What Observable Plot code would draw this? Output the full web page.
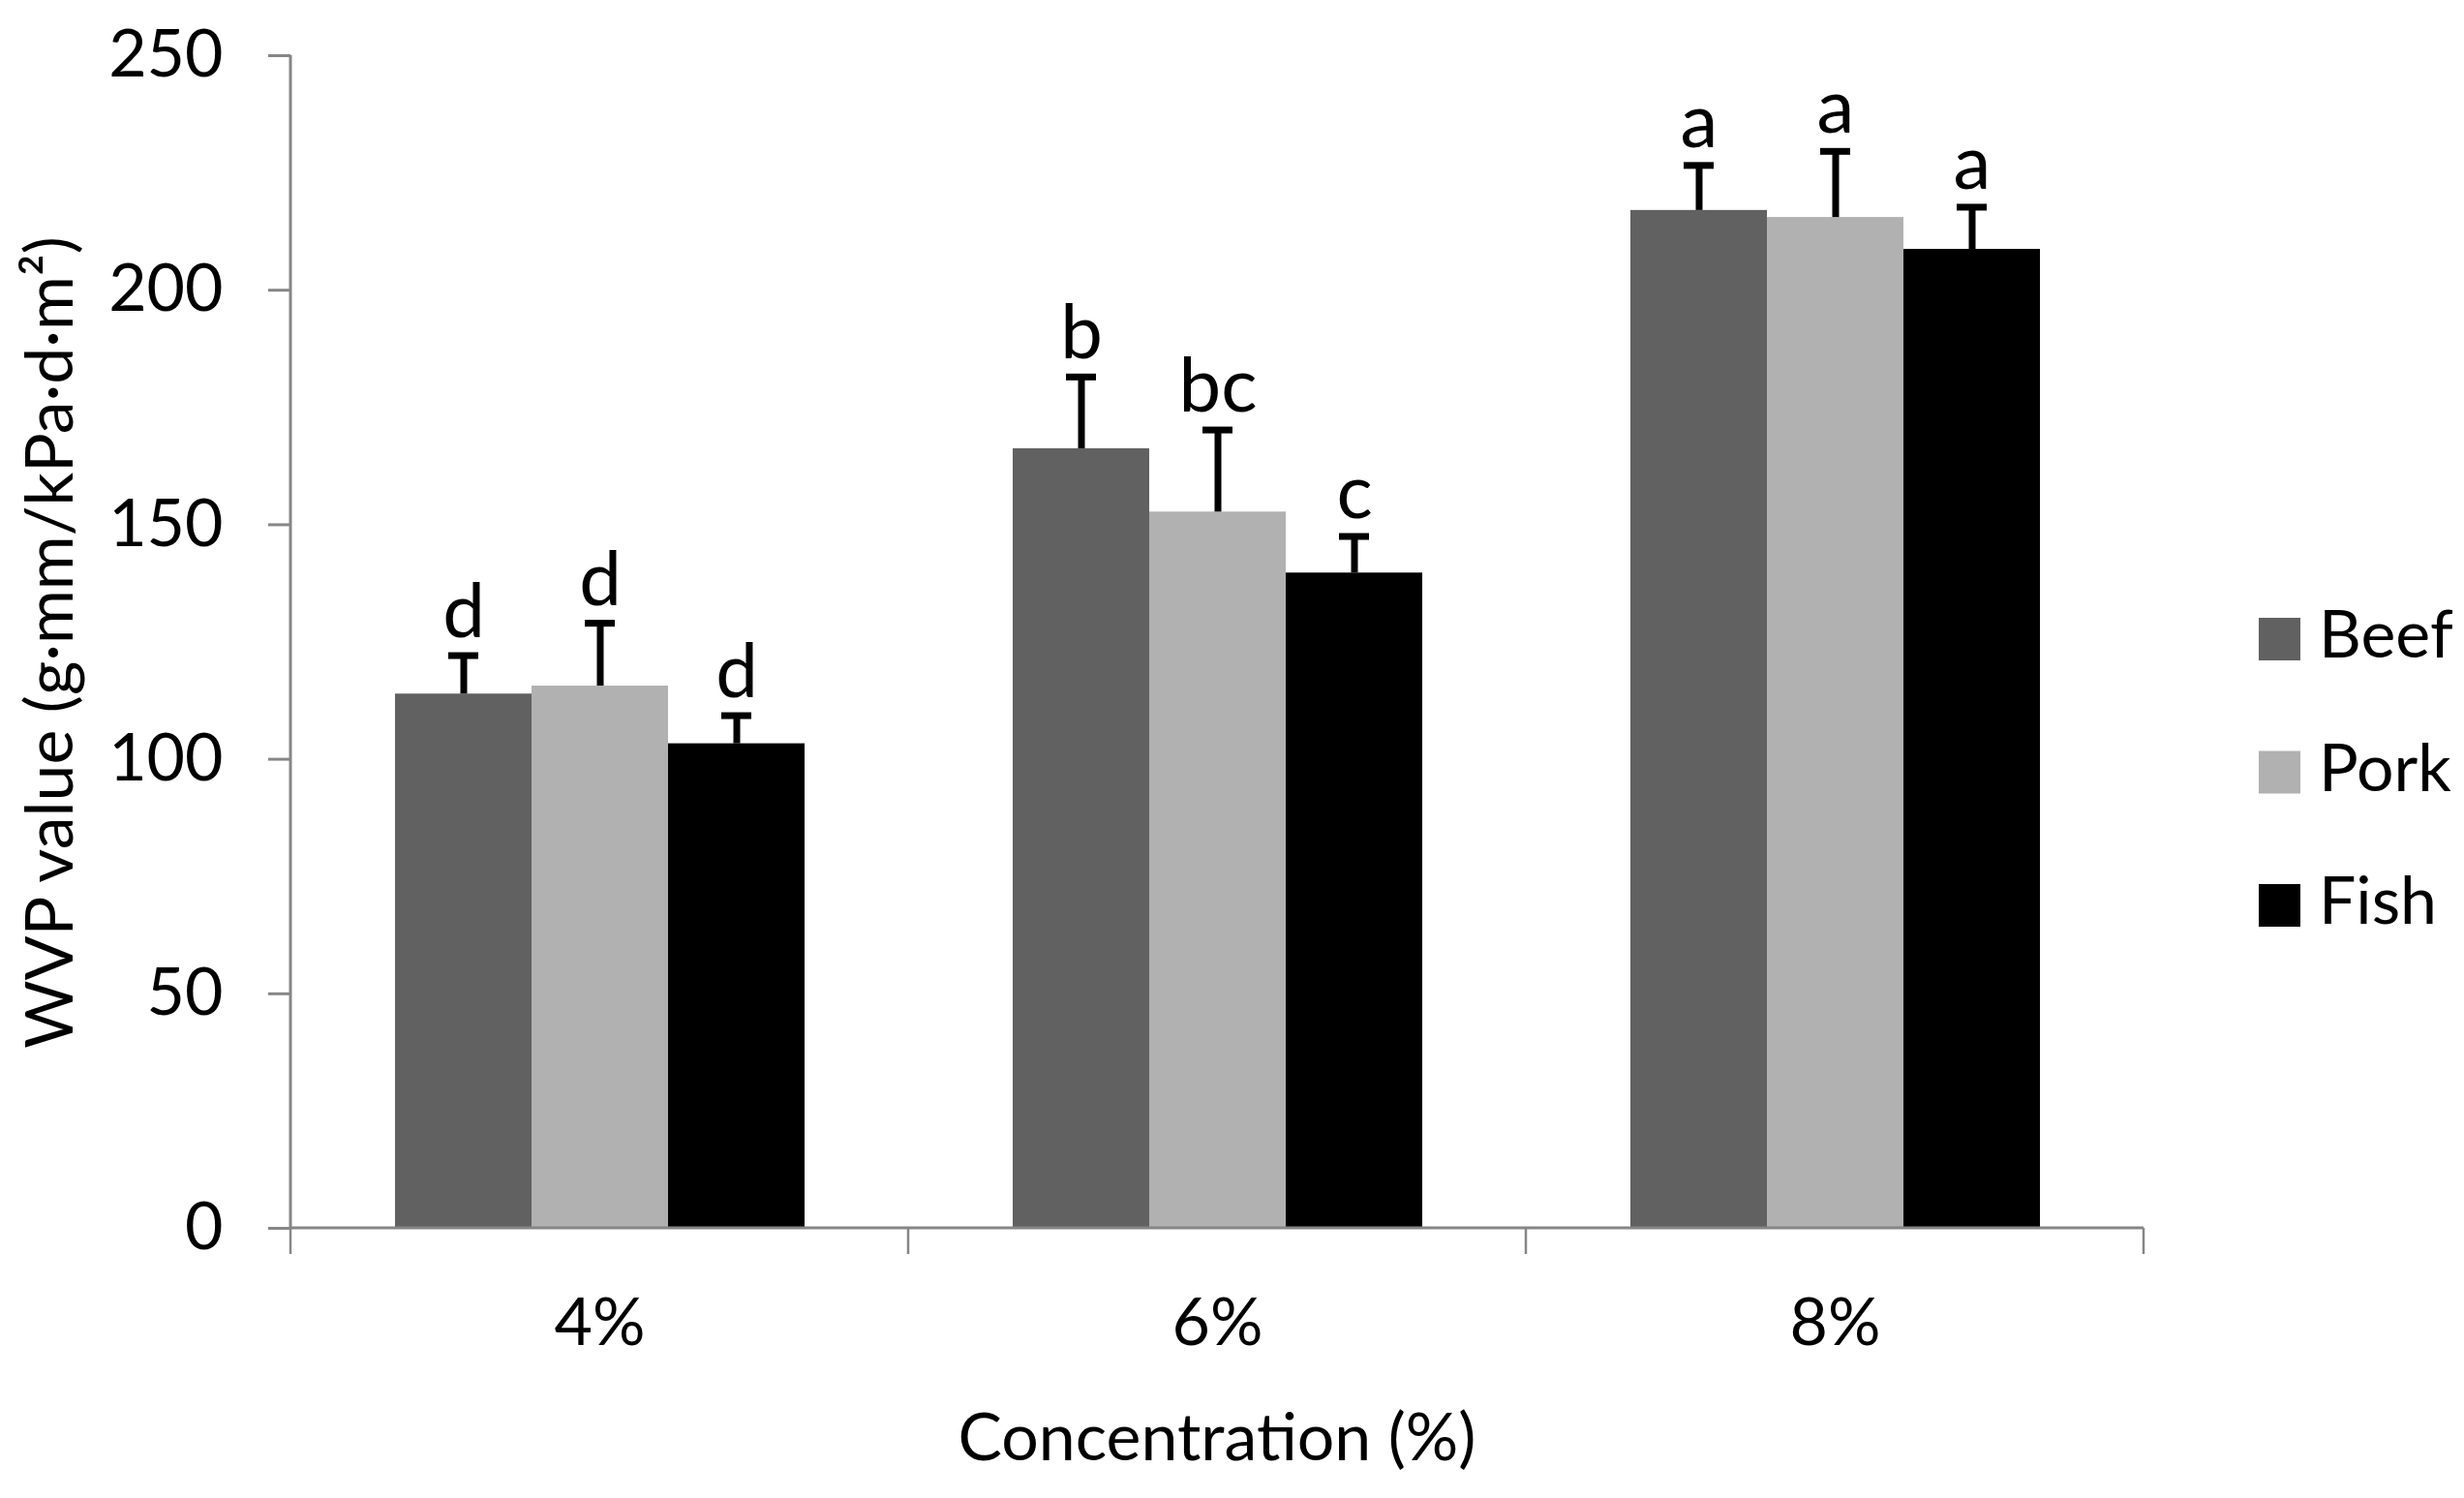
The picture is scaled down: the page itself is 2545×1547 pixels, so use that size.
<!DOCTYPE html>
<html>
<head>
<meta charset="utf-8">
<script src="https://cdn.jsdelivr.net/npm/d3@7"></script>
<script src="https://cdn.jsdelivr.net/npm/@observablehq/plot@0.6"></script>
<style>
  html, body { margin: 0; padding: 0; background: #fff; }
  #chart svg { display: block; font-family: Lato, "Open Sans", sans-serif; }
  #chart svg g[aria-label^="y-axis"] path,
  #chart svg g[aria-label^="y-axis"] line { stroke: #868686; stroke-width: 3px; }
</style>
</head>
<body>
<div id="chart"></div>
<script>
// ---- data ----
const concentrations = ["4%", "6%", "8%"];
const series = ["Beef", "Pork", "Fish"];
const seriesColors = ["#616161", "#b1b1b1", "#000000"];

const beefValues = [113.9, 166.2, 217.0];
const porkValues = [115.6, 152.7, 215.5];
const fishValues = [103.3, 139.7, 208.7];

const beefErrors = [8.2, 15.3, 9.6];
const porkErrors = [13.4, 17.5, 14.1];
const fishErrors = [6.0, 7.8, 9.0];

const beefLetters = ["d", "b", "a"];
const porkLetters = ["d", "bc", "a"];
const fishLetters = ["d", "c", "a"];

const yTicks = [0, 50, 100, 150, 200, 250];
const yTitle = "WVP value (g·mm/kPa·d·m²)";
const xTitle = "Concentration (%)";

// ---- table built from arrays ----
const valuesBy = {Beef: beefValues, Pork: porkValues, Fish: fishValues};
const errorsBy = {Beef: beefErrors, Pork: porkErrors, Fish: fishErrors};
const lettersBy = {Beef: beefLetters, Pork: porkLetters, Fish: fishLetters};
const rows = [];
concentrations.forEach((c, i) => {
  series.forEach(s => {
    const v = valuesBy[s][i];
    rows.push({conc: c, series: s, value: v, upper: v + errorsBy[s][i], letter: lettersBy[s][i]});
  });
});

const W = 2545, H = 1547;
const chart = Plot.plot({
  width: W,
  height: H,
  marginLeft: 299,
  marginRight: 331,
  marginTop: 57,
  marginBottom: 279,
  style: {fontFamily: "Lato", fontSize: "68px", color: "#000", background: "#fff", overflow: "visible"},
  fx: {domain: concentrations, padding: 0, label: null, tickSize: 0, tickPadding: 72},
  x: {domain: series, paddingInner: 0, paddingOuter: 0.75, axis: null},
  y: {domain: [0, 250], ticks: yTicks, tickSize: 23, tickPadding: 47, label: null},
  color: {domain: series, range: seriesColors},
  marks: [
    Plot.barY(rows, {fx: "conc", x: "series", y: "value", fill: "series"}),
    Plot.ruleX(rows, {fx: "conc", x: "series", y1: "value", y2: "upper", stroke: "#000", strokeWidth: 7}),
    Plot.tickY(rows, {fx: "conc", x: "series", y: "upper", stroke: "#000", strokeWidth: 7, insetLeft: 55, insetRight: 55}),
    Plot.text(rows, {fx: "conc", x: "series", y: "upper", text: "letter", lineAnchor: "bottom", dy: -19, fontSize: 78, fill: "#000"})
  ]
});

document.getElementById("chart").appendChild(chart);

// ---- axis lines, category boundary ticks, titles and legend via Plot's scales ----
const svg = d3.select(chart);
const fxS = chart.scale("fx");
const yS = chart.scale("y");
const cS = chart.scale("color");
const bandStarts = concentrations.map(c => fxS.apply(c));
const xStart = bandStarts[0];
const xEnd = bandStarts[bandStarts.length - 1] + fxS.bandwidth;
const y0 = yS.apply(0), yTop = yS.apply(250);

const g = svg.append("g").attr("stroke", "#868686");
g.append("line").attr("x1", xStart).attr("x2", xStart).attr("y1", y0 + 1.5).attr("y2", yTop).attr("stroke-width", 3);
g.append("line").attr("x1", xStart).attr("x2", xEnd).attr("y1", y0).attr("y2", y0).attr("stroke-width", 3);
[...bandStarts, xEnd].forEach(x => {
  g.append("line").attr("x1", x).attr("x2", x).attr("y1", y0).attr("y2", y0 + 27).attr("stroke-width", 2.5);
});

svg.append("text")
  .attr("x", (xStart + xEnd) / 2).attr("y", 1508)
  .attr("text-anchor", "middle").attr("font-size", 68).attr("fill", "#000")
  .text(xTitle);

svg.append("text")
  .attr("transform", `translate(75, ${(y0 + yTop) / 2 + 1}) rotate(-90)`)
  .attr("text-anchor", "middle").attr("font-size", 68).attr("fill", "#000")
  .text(yTitle);

const legend = svg.append("g").attr("text-anchor", "start");
series.forEach((s, i) => {
  const cy = 660 + i * 137.5;
  legend.append("rect").attr("x", 2333).attr("y", cy - 22).attr("width", 43).attr("height", 44).attr("fill", cS.apply(s));
  legend.append("text").attr("x", 2395).attr("y", cy + 19).attr("text-anchor", "start").attr("font-size", 68).attr("fill", "#000").text(s);
});
</script>
</body>
</html>
